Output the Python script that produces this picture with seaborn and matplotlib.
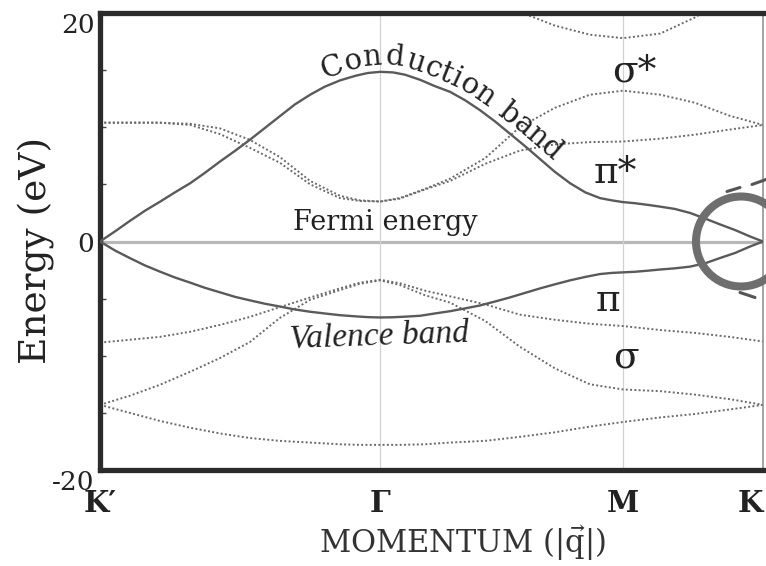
import numpy as np
import pandas as pd
import seaborn as sns
import matplotlib
matplotlib.use("Agg")
import matplotlib.pyplot as plt
from matplotlib.ticker import MultipleLocator
from matplotlib.transforms import IdentityTransform
from matplotlib.patches import Circle
from matplotlib.lines import Line2D
from matplotlib.font_manager import FontProperties, findfont, get_font

# High-symmetry points along the K' - Γ - M - K path (fraction of path length)
tick_pos = [0.0, 0.4226, 0.7887, 1.0]
tick_labels = ["K′", "Γ", "M", "K"]

# π bands, sampled finely along the path (eV)
k_pi = [0.000, 0.023, 0.045, 0.068, 0.091, 0.113, 0.136, 0.158, 0.181, 0.204,
        0.226, 0.249, 0.272, 0.294, 0.317, 0.339, 0.362, 0.385, 0.404, 0.4226,
        0.442, 0.460, 0.483, 0.505, 0.528, 0.551, 0.573, 0.596, 0.618, 0.641,
        0.664, 0.686, 0.709, 0.732, 0.754, 0.772, 0.7887, 0.807, 0.827, 0.845,
        0.867, 0.890, 0.913, 0.935, 0.958, 0.980, 1.000]
pi_star = [0.0, 0.9, 1.8, 2.7, 3.5, 4.3, 5.1, 6.0, 7.0, 7.95,
           8.9, 9.95, 11.0, 12.0, 12.85, 13.55, 14.1, 14.5, 14.75, 14.85,
           14.8, 14.6, 14.15, 13.6, 13.1, 12.35, 11.5, 10.5, 9.45, 8.35,
           7.2, 6.1, 5.1, 4.3, 3.8, 3.6, 3.45, 3.35, 3.2, 3.05,
           2.85, 2.5, 2.0, 1.5, 1.0, 0.45, 0.0]
pi_band = [0.0, -0.8, -1.45, -2.1, -2.65, -3.15, -3.6, -4.05, -4.45, -4.85,
           -5.15, -5.45, -5.7, -5.95, -6.15, -6.3, -6.45, -6.55, -6.62, -6.65,
           -6.63, -6.58, -6.5, -6.3, -6.1, -5.85, -5.6, -5.25, -4.9, -4.5,
           -4.1, -3.75, -3.4, -3.1, -2.85, -2.75, -2.7, -2.65, -2.55, -2.45,
           -2.35, -2.2, -1.9, -1.45, -1.0, -0.45, 0.0]

# σ bands (eV)
k_sigma = [0.000, 0.045, 0.090, 0.136, 0.181, 0.226, 0.271, 0.317, 0.362, 0.392,
           0.4226, 0.452, 0.490, 0.528, 0.581, 0.633, 0.686, 0.739, 0.7887, 0.845,
           0.897, 0.950, 1.000]
sigma_star_a = [10.4, 10.4, 10.4, 10.3, 9.9, 8.9, 7.4, 5.3, 4.0, 3.6,
                3.5, 3.8, 4.6, 5.5, 7.3, 10.0, 11.7, 12.85, 13.2, 12.85,
                12.15, 11.0, 10.2]
sigma_star_b = [10.4, 10.4, 10.4, 10.2, 9.4, 8.2, 6.9, 5.0, 3.8, 3.55,
                3.5, 3.75, 4.55, 5.3, 6.8, 7.95, 8.5, 8.7, 8.75, 9.0,
                9.35, 9.8, 10.2]
sigma_star_high = [np.nan] * 13 + [23.5, 21.4, 20.1, 18.9, 18.1, 17.8, 18.2, 19.6, 21.5, 23.5]
sigma_a = [-8.85, -8.6, -8.35, -7.9, -7.3, -6.6, -5.75, -4.9, -4.1, -3.6,
           -3.35, -3.65, -4.3, -4.8, -5.5, -6.4, -6.85, -7.2, -7.4, -7.75,
           -8.0, -8.35, -8.75]
sigma_b = [-14.3, -13.5, -12.55, -11.4, -10.2, -8.8, -6.7, -5.1, -4.25, -3.7,
           -3.4, -3.8, -4.7, -5.35, -6.95, -9.2, -11.1, -12.5, -12.95, -13.1,
           -13.4, -13.8, -14.3]
sigma_low = [-14.3, -15.0, -15.7, -16.3, -16.8, -17.2, -17.45, -17.6, -17.75, -17.8,
             -17.8, -17.8, -17.75, -17.6, -17.45, -17.1, -16.7, -16.2, -15.8, -15.4,
             -15.1, -14.7, -14.3]

pi_df = pd.DataFrame({"k": k_pi, "pi_star": pi_star, "pi": pi_band})
sigma_df = pd.DataFrame({
    "k": k_sigma,
    "sigma_star_a": sigma_star_a, "sigma_star_b": sigma_star_b,
    "sigma_star_high": sigma_star_high,
    "sigma_a": sigma_a, "sigma_b": sigma_b, "sigma_low": sigma_low,
})
solid = pi_df.melt(id_vars="k", var_name="band", value_name="E")
dotted = sigma_df.melt(id_vars="k", var_name="band", value_name="E").dropna()

sns.set_theme(style="white")
plt.rcParams["font.family"] = ["DejaVu Serif"]
plt.rcParams["mathtext.fontset"] = "dejavuserif"
plt.rcParams["text.color"] = "#222222"

W, H = 766, 566
fig = plt.figure(figsize=(W / 100, H / 100), dpi=100, facecolor="white")
ax = fig.add_axes([100 / W, 96 / H, 663 / W, 457 / H])
ax.set_xlim(0, 1)
ax.set_ylim(-20, 20)

# Fermi level and high-symmetry guides
ax.axhline(0, color="#b8b8b8", lw=2.3, zorder=1)
for xv in tick_pos[1:3]:
    ax.axvline(xv, color="#d2d2d2", lw=0.9, zorder=1)

sns.lineplot(data=dotted, x="k", y="E", units="band", estimator=None, sort=False,
             color="#6a6a6a", lw=1.4, linestyle=(0, (1, 1.2)), ax=ax, zorder=2)
sns.lineplot(data=solid, x="k", y="E", units="band", estimator=None, sort=False,
             color="#5a5a5a", lw=1.7, ax=ax, zorder=3)

# frame
for side in ["left", "top", "bottom"]:
    ax.spines[side].set_linewidth(3.8)
    ax.spines[side].set_color("#2b2b2b")
ax.spines["right"].set_linewidth(1.1)
ax.spines["right"].set_color("#8a8a8a")

ax.set_yticks([-20, 0, 20], labels=["-20", "0", "20"])
ax.yaxis.set_minor_locator(MultipleLocator(5))
ax.set_xticks(tick_pos, labels=tick_labels)
ax.tick_params(axis="y", which="major", length=0, pad=4, labelsize=19, labelcolor="#222222")
ax.tick_params(axis="y", which="minor", left=True, direction="in", length=4,
               width=1.0, color="#444444")
ax.tick_params(axis="x", which="major", length=0, pad=14, labelsize=21, labelcolor="#222222")
xlabs = ax.get_xticklabels()
for lab in xlabs:
    lab.set_fontweight("bold")
xlabs[-1].set_ha("right")
ylabs = ax.get_yticklabels()
ylabs[0].set_va("top")
ylabs[2].set_va("top")

ax.set_ylabel("Energy (eV)", fontsize=27, color="#222222")
ax.yaxis.set_label_coords(-0.068, 0.48)
ax.set_xlabel(r"MOMENTUM ($|\vec{\mathrm{q}}|$)", fontsize=22, color="#333333")
ax.xaxis.set_label_coords(0.546, -0.118)


def to_px(x, y):
    return ax.transData.transform((x, y))


def curved_label(xs, ys, text, x_start_px, offset_px, size, color="#222222"):
    """Lay out text character by character along a data curve."""
    pts = ax.transData.transform(np.column_stack([xs, ys]))
    t = np.linspace(0, len(pts) - 1, 4000)
    cx = np.interp(t, np.arange(len(pts)), pts[:, 0])
    cy = np.interp(t, np.arange(len(pts)), pts[:, 1])
    s = np.concatenate([[0], np.cumsum(np.hypot(np.diff(cx), np.diff(cy)))])
    s0 = np.interp(x_start_px, cx, s)
    fp = FontProperties(family="DejaVu Serif", size=size)
    try:
        from matplotlib._text_helpers import layout
        font = get_font(findfont(fp))
        font.set_size(size, fig.dpi)
        xpos = [it.x for it in layout(text + "x", font)]
    except Exception:
        step = 0.58 * size * fig.dpi / 72
        xpos = [i * step for i in range(len(text) + 1)]
    for i, ch in enumerate(text):
        if ch == " ":
            continue
        m = s0 + 0.5 * (xpos[i] + xpos[i + 1])
        px, py = np.interp(m, s, cx), np.interp(m, s, cy)
        ax0, ay0 = np.interp(m - 12, s, cx), np.interp(m - 12, s, cy)
        ax1, ay1 = np.interp(m + 12, s, cx), np.interp(m + 12, s, cy)
        ang = np.arctan2(ay1 - ay0, ax1 - ax0)
        nx, ny = -np.sin(ang), np.cos(ang)
        fig.text(px + nx * offset_px, py + ny * offset_px, ch, transform=IdentityTransform(),
                 rotation=np.degrees(ang), rotation_mode="anchor", ha="center", va="baseline",
                 fontproperties=fp, color=color)


curved_label(k_pi, pi_star, "Conduction band", 327, 7, 21)

ax.text(0.291, 1.05, "Fermi energy", fontsize=19.5, ha="left", va="baseline", color="#222222")
ax.text(0.287, -9.3, "Valence band", fontsize=24, fontstyle="italic", family="Liberation Serif",
        ha="left", va="baseline", rotation=2, rotation_mode="anchor", color="#222222")
ax.text(0.773, 14.0, "σ*", fontsize=27, ha="left", va="baseline", color="#222222")
ax.text(0.744, 5.15, "π*", fontsize=27, ha="left", va="baseline", color="#222222")
ax.text(0.747, -6.1, "π", fontsize=27, ha="left", va="baseline", color="#222222")
ax.text(0.774, -11.0, "σ", fontsize=27, ha="left", va="baseline", color="#222222")

# ring around the Dirac point at K
cx0, cy0 = to_px(1.0, 0.0)
cx0 -= 22
ring = Circle((cx0, cy0), 45, transform=IdentityTransform(), fill=False,
              lw=5.8, ec="#6e6e6e", zorder=5, clip_on=False)
fig.add_artist(ring)
for (x0, y0), (x1, y1) in [((-14, 50), (-1, 54)), ((11, 57), (25, 62)), ((-1, -51), (14, -56))]:
    fig.add_artist(Line2D([cx0 + x0, cx0 + x1], [cy0 + y0, cy0 + y1], transform=IdentityTransform(),
                          lw=2.2, color="#555555", zorder=5))

fig.savefig("out.png", dpi=100, facecolor="white")
